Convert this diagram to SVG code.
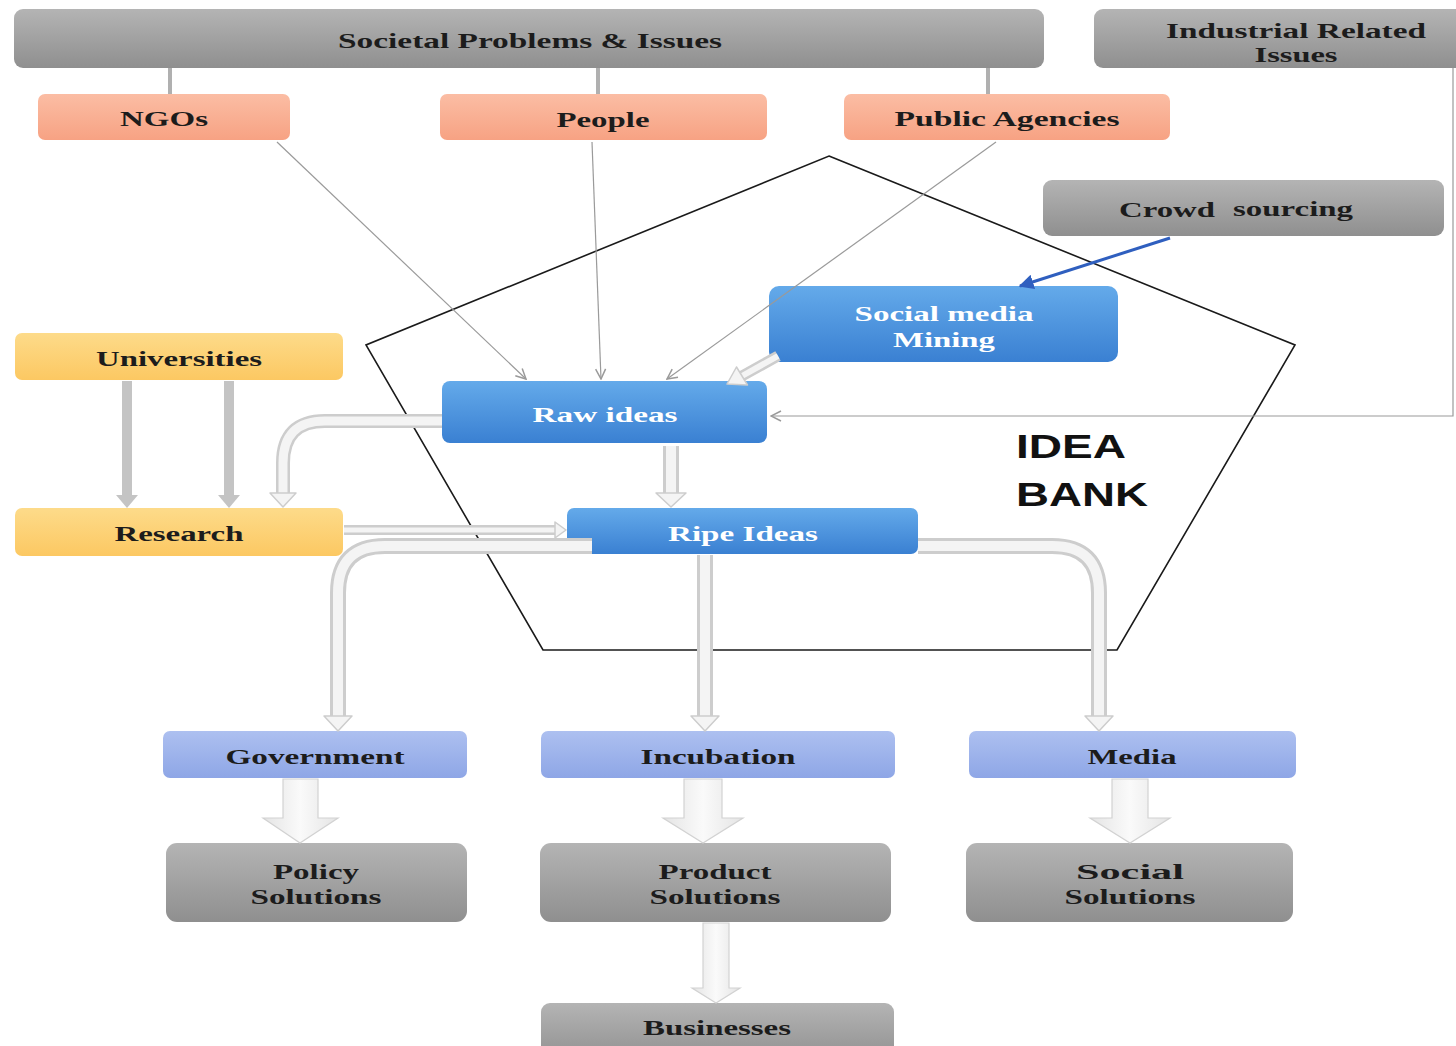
<svg xmlns="http://www.w3.org/2000/svg" width="1456" height="1046" viewBox="0 0 1456 1046">
<defs>
<linearGradient id="gGray" x1="0" y1="0" x2="0" y2="1"><stop offset="0" stop-color="#b4b4b4"/><stop offset="1" stop-color="#8f8f8f"/></linearGradient>
<linearGradient id="gOrange" x1="0" y1="0" x2="0" y2="1"><stop offset="0" stop-color="#fbbda4"/><stop offset="1" stop-color="#f7a283"/></linearGradient>
<linearGradient id="gYellow" x1="0" y1="0" x2="0" y2="1"><stop offset="0" stop-color="#fddb8a"/><stop offset="1" stop-color="#fcc862"/></linearGradient>
<linearGradient id="gBlue" x1="0" y1="0" x2="0" y2="1"><stop offset="0" stop-color="#64aaea"/><stop offset="1" stop-color="#3a80d2"/></linearGradient>
<linearGradient id="gLav" x1="0" y1="0" x2="0" y2="1"><stop offset="0" stop-color="#adc0f0"/><stop offset="1" stop-color="#8ea6e6"/></linearGradient>
<linearGradient id="gArrow" x1="0" y1="0" x2="1" y2="0"><stop offset="0" stop-color="#e4e4e4"/><stop offset="0.5" stop-color="#fafafa"/><stop offset="1" stop-color="#e4e4e4"/></linearGradient>
<marker id="thin" viewBox="0 0 12 12" refX="11" refY="6" markerWidth="12" markerHeight="12" markerUnits="userSpaceOnUse" orient="auto"><path d="M1,1 L11,6 L1,11" fill="none" stroke="#9a9a9a" stroke-width="1.5"/></marker>
<marker id="blueHead" viewBox="0 0 10 10" refX="9" refY="5" markerWidth="5" markerHeight="5" orient="auto"><path d="M0,0 L10,5 L0,10 z" fill="#2f5fbf"/></marker>
<style>
.lbl{font-family:"Liberation Serif","Times New Roman",serif;font-weight:bold;font-size:22px;fill:#1c1c1c;text-anchor:middle;dominant-baseline:central}
.wlbl{fill:#ffffff}
.gray{fill:url(#gGray)}
.orange{fill:url(#gOrange)}
.yellow{fill:url(#gYellow)}
.blue{fill:url(#gBlue)}
.lav{fill:url(#gLav)}
.thinline{stroke:#9a9a9a;stroke-width:1.2;fill:none;marker-end:url(#thin)}
.hout{fill:none;stroke:#cdcdcd;stroke-linecap:butt;stroke-linejoin:round}
.hin{fill:none;stroke:#f4f4f4;stroke-linecap:butt;stroke-linejoin:round}
.hhead{fill:#f4f4f4;stroke:#cdcdcd;stroke-width:1.5;stroke-linejoin:round}
.block{fill:url(#gArrow);stroke:#d2d2d2;stroke-width:1.2}
.solidg{fill:#c4c4c4}
</style>
</defs>
<rect width="1456" height="1046" fill="#ffffff"/>

<!-- Pentagon (Idea bank boundary) -->
<polygon points="829,156 1295,345 1117,650 543,650 366,345" fill="none" stroke="#1a1a1a" stroke-width="1.6"/>
<text x="1016" y="446" font-family="'Liberation Sans',Arial,sans-serif" font-weight="bold" font-size="34" fill="#111" dominant-baseline="central" textLength="110" lengthAdjust="spacingAndGlyphs">IDEA</text>
<text x="1016" y="494" font-family="'Liberation Sans',Arial,sans-serif" font-weight="bold" font-size="34" fill="#111" dominant-baseline="central" textLength="132" lengthAdjust="spacingAndGlyphs">BANK</text>

<!-- Nodes -->
<g id="societal"><rect x="14" y="9" width="1030" height="59" rx="9" class="gray"/><text x="530" y="40" class="lbl" textLength="384" lengthAdjust="spacingAndGlyphs">Societal Problems &amp; Issues</text></g>
<g id="industrial"><rect x="1094" y="9" width="372" height="59" rx="9" class="gray"/><text x="1296" y="30" class="lbl" textLength="260" lengthAdjust="spacingAndGlyphs">Industrial Related</text><text x="1296" y="54" class="lbl" textLength="83" lengthAdjust="spacingAndGlyphs">Issues</text></g>
<g id="ngos"><rect x="38" y="94" width="252" height="46" rx="7" class="orange"/><text x="164" y="118" class="lbl" textLength="88" lengthAdjust="spacingAndGlyphs">NGOs</text></g>
<g id="people"><rect x="440" y="94" width="327" height="46" rx="7" class="orange"/><text x="603" y="119" class="lbl" textLength="93" lengthAdjust="spacingAndGlyphs">People</text></g>
<g id="public-agencies"><rect x="844" y="94" width="326" height="46" rx="7" class="orange"/><text x="1007" y="118" class="lbl" textLength="225" lengthAdjust="spacingAndGlyphs">Public Agencies</text></g>
<g id="crowd-sourcing"><rect x="1043" y="180" width="401" height="56" rx="9" class="gray"/><text x="1167" y="209" class="lbl" textLength="96" lengthAdjust="spacingAndGlyphs">Crowd</text><text x="1293" y="208" class="lbl" font-weight="normal" font-size="26" textLength="120" lengthAdjust="spacingAndGlyphs">sourcing</text></g>
<g id="social-media-mining"><rect x="769" y="286" width="349" height="76" rx="10" class="blue"/><text x="944" y="313" class="lbl wlbl" textLength="179" lengthAdjust="spacingAndGlyphs">Social media</text><text x="944" y="339" class="lbl wlbl" textLength="102" lengthAdjust="spacingAndGlyphs">Mining</text></g>
<g id="raw-ideas"><rect x="442" y="381" width="325" height="62" rx="8" class="blue"/><text x="605" y="414" class="lbl wlbl" textLength="145" lengthAdjust="spacingAndGlyphs">Raw ideas</text></g>
<g id="universities"><rect x="15" y="333" width="328" height="47" rx="7" class="yellow"/><text x="179" y="358" class="lbl" textLength="166" lengthAdjust="spacingAndGlyphs">Universities</text></g>
<g id="research"><rect x="15" y="508" width="328" height="48" rx="7" class="yellow"/><text x="179" y="533" class="lbl" textLength="129" lengthAdjust="spacingAndGlyphs">Research</text></g>
<g id="ripe-ideas"><rect x="567" y="508" width="351" height="46" rx="7" class="blue"/><text x="743" y="533" class="lbl wlbl" textLength="150" lengthAdjust="spacingAndGlyphs">Ripe Ideas</text></g>
<g id="government"><rect x="163" y="731" width="304" height="47" rx="7" class="lav"/><text x="315" y="756" class="lbl" textLength="179" lengthAdjust="spacingAndGlyphs">Government</text></g>
<g id="incubation"><rect x="541" y="731" width="354" height="47" rx="7" class="lav"/><text x="718" y="756" class="lbl" textLength="155" lengthAdjust="spacingAndGlyphs">Incubation</text></g>
<g id="media"><rect x="969" y="731" width="327" height="47" rx="7" class="lav"/><text x="1132" y="756" class="lbl" textLength="89" lengthAdjust="spacingAndGlyphs">Media</text></g>
<g id="policy-solutions"><rect x="166" y="843" width="301" height="79" rx="11" class="gray"/><text x="316" y="871" class="lbl" textLength="86" lengthAdjust="spacingAndGlyphs">Policy</text><text x="316" y="896" class="lbl" textLength="131" lengthAdjust="spacingAndGlyphs">Solutions</text></g>
<g id="product-solutions"><rect x="540" y="843" width="351" height="79" rx="11" class="gray"/><text x="715" y="871" class="lbl" textLength="113" lengthAdjust="spacingAndGlyphs">Product</text><text x="715" y="896" class="lbl" textLength="131" lengthAdjust="spacingAndGlyphs">Solutions</text></g>
<g id="social-solutions"><rect x="966" y="843" width="327" height="79" rx="11" class="gray"/><text x="1130" y="871" class="lbl" textLength="108" lengthAdjust="spacingAndGlyphs">Social</text><text x="1130" y="896" class="lbl" textLength="131" lengthAdjust="spacingAndGlyphs">Solutions</text></g>
<g id="businesses"><rect x="541" y="1003" width="353" height="60" rx="9" class="gray"/><text x="717" y="1027" class="lbl" textLength="148" lengthAdjust="spacingAndGlyphs">Businesses</text></g>

<!-- Connectors -->
<g id="connectors">
<line x1="170" y1="68" x2="170" y2="94" stroke="#b0b0b0" stroke-width="4"/>
<line x1="598" y1="68" x2="598" y2="94" stroke="#b0b0b0" stroke-width="4"/>
<line x1="988" y1="68" x2="988" y2="94" stroke="#b0b0b0" stroke-width="4"/>
<line x1="277" y1="142" x2="526" y2="379" class="thinline"/>
<line x1="592" y1="142" x2="601" y2="379" class="thinline"/>
<line x1="996" y1="142" x2="667" y2="379" class="thinline"/>
<polyline points="1453,68 1453,416 771,416" class="thinline"/>
<line x1="1170" y1="238" x2="1020" y2="286" stroke="#2f5fbf" stroke-width="3" marker-end="url(#blueHead)"/>
<line x1="778" y1="356" x2="742" y2="376" class="hout" stroke-width="11"/>
<line x1="778" y1="356" x2="742" y2="376" class="hin" stroke-width="6"/>
<polygon points="747.5,385 736.5,367 727,384" class="hhead"/>
<rect x="122" y="381" width="10" height="115" class="solidg"/><polygon points="116,495 138,495 127,508" class="solidg"/>
<rect x="224" y="381" width="10" height="115" class="solidg"/><polygon points="218,495 240,495 229,508" class="solidg"/>
<path d="M442,421 H325 Q283,421 283,463 V494" class="hout" stroke-width="14"/>
<path d="M442,421 H325 Q283,421 283,463 V494" class="hin" stroke-width="9"/>
<polygon points="270,493 296,493 283,507" class="hhead"/>
<path d="M671,446 V494" class="hout" stroke-width="16"/>
<path d="M671,446 V494" class="hin" stroke-width="10"/>
<polygon points="656,493 686,493 671,507" class="hhead"/>
<path d="M344,530 H556" class="hout" stroke-width="10"/>
<path d="M344,530 H556" class="hin" stroke-width="5"/>
<polygon points="555,522 555,538 566,530" class="hhead"/>
<path d="M592,546 H385 Q338,546 338,593 V718" class="hout" stroke-width="16"/>
<path d="M592,546 H385 Q338,546 338,593 V718" class="hin" stroke-width="10"/>
<polygon points="324,716 352,716 338,731" class="hhead"/>
<path d="M705,555 V718" class="hout" stroke-width="16"/>
<path d="M705,555 V718" class="hin" stroke-width="10"/>
<polygon points="691,716 719,716 705,731" class="hhead"/>
<path d="M918,546 H1052 Q1099,546 1099,593 V718" class="hout" stroke-width="16"/>
<path d="M918,546 H1052 Q1099,546 1099,593 V718" class="hin" stroke-width="10"/>
<polygon points="1085,716 1113,716 1099,731" class="hhead"/>
<polygon points="283,779 318,779 318,818 338,818 300,843 263,818 283,818" class="block"/>
<polygon points="684,779 722,779 722,818 743,818 703,843 663,818 684,818" class="block"/>
<polygon points="1112,779 1148,779 1148,818 1170,818 1130,843 1090,818 1112,818" class="block"/>
<polygon points="703,923 729,923 729,988 740,988 716,1003 692,988 703,988" class="block"/>
</g>
</svg>
